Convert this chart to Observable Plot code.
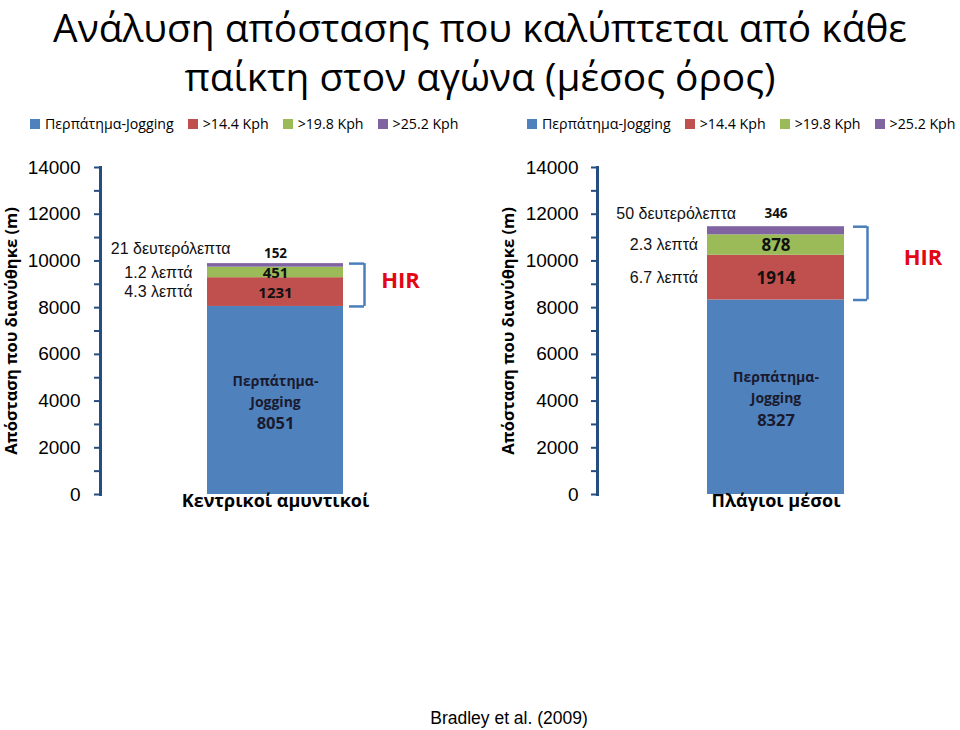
<!DOCTYPE html>
<html>
<head>
<meta charset="utf-8">
<script src="https://cdn.jsdelivr.net/npm/d3@7"></script>
<script src="https://cdn.jsdelivr.net/npm/@observablehq/plot@0.6"></script>
<style>
  html, body { margin: 0; padding: 0; background: #fff; }
  body { width: 960px; height: 730px; position: relative; overflow: hidden; font-family: "Liberation Sans", Arial, sans-serif; }
  #title { position: absolute; left: 0; top: 2px; width: 960px; text-align: center; font-family: "Open Sans", sans-serif; font-size: 38px; line-height: 49px; color: #000; }
  #title .tl { white-space: nowrap; }
  .legend { position: absolute; top: 107px; width: 445px; white-space: nowrap; }
  .lg-swatches-wrap { flex-wrap: nowrap !important; }
  .lg-swatch { margin-right: 14px !important; }
  .lg-swatch > svg { margin-right: 5px !important; }
  .panel { position: absolute; top: 140px; }
  #caption { position: absolute; left: 0; width: 1018px; text-align: center; top: 708px; font-family: "Liberation Sans", Arial, sans-serif; font-size: 17.5px; color: #000; }
</style>
</head>
<body>
<div id="title"></div>
<div id="legendL" class="legend" style="left:30px"></div>
<div id="legendR" class="legend" style="left:527px"></div>
<div id="panelL" class="panel" style="left:0px"></div>
<div id="panelR" class="panel" style="left:480px"></div>
<div id="caption"></div>
<script>
// ---------- data ----------
const titleLines = ["Ανάλυση απόστασης που καλύπτεται από κάθε", "παίκτη στον αγώνα (μέσος όρος)"];
const series = ["Περπάτημα-Jogging", ">14.4 Kph", ">19.8 Kph", ">25.2 Kph"];
const colors = ["#4F81BD", "#C0504D", "#9BBB59", "#8064A2"];
const groups = ["Κεντρικοί αμυντικοί", "Πλάγιοι μέσοι"];
const centralValues = [8051, 1231, 451, 152];
const wideValues = [8327, 1914, 878, 346];
const centralTimes = ["", "4.3 λεπτά", "1.2 λεπτά", "21 δευτερόλεπτα"];
const wideTimes = ["", "6.7 λεπτά", "2.3 λεπτά", "50 δευτερόλεπτα"];
const yTicks = [0, 1000, 2000, 3000, 4000, 5000, 6000, 7000, 8000, 9000, 10000, 11000, 12000, 13000, 14000];
const yLabelTicks = [0, 2000, 4000, 6000, 8000, 10000, 12000, 14000];
const yDomain = [0, 14000];
const axisTitle = "Απόσταση που διανύθηκε (m)";
const hirLabel = "HIR";
const caption = "Bradley et al. (2009)";

const axisColor = "#264d80";
const bracketColor = "#4a7ebb";
const hirColor = "#e30613";
const labelFont = "'Open Sans', sans-serif";
const plainFont = "'Liberation Sans', Arial, sans-serif";

// ---------- title (font size fitted to the reference line width) ----------
const titleEl = document.getElementById("title");
titleLines.forEach(t => {
  const d = document.createElement("div");
  d.className = "tl";
  const s = document.createElement("span");
  s.textContent = t;
  d.appendChild(s);
  titleEl.appendChild(d);
});
const firstSpan = titleEl.querySelector("span");
const w0 = firstSpan.getBoundingClientRect().width;
titleEl.style.fontSize = (38 * 854 / w0).toFixed(2) + "px";

document.getElementById("caption").textContent = caption;

// ---------- legends ----------
for (const id of ["legendL", "legendR"]) {
  document.getElementById(id).appendChild(
    Plot.legend({
      color: {domain: series, range: colors},
      swatchSize: 10,
      className: "lg",
      style: {fontFamily: labelFont, fontSize: "14.2px", color: "#000"}
    })
  );
}

// ---------- panels ----------
function panel(o) {
  let acc = 0;
  const rows = series.map((s, i) => {
    const y1 = acc; acc += o.values[i];
    return {group: o.group, series: s, value: o.values[i], time: o.times[i], y1, y2: acc, mid: (y1 + acc) / 2, idx: i};
  });
  const total = acc;
  const hirBase = rows[1].y1;
  const inner = rows.filter(r => r.idx === 1 || r.idx === 2);
  const top = rows.filter(r => r.idx === 3);
  return Plot.plot({
    width: 480, height: 380,
    marginLeft: o.marginLeft, marginRight: 0, marginTop: 27, marginBottom: 26,
    style: {fontFamily: plainFont, fontSize: "16px", overflow: "visible", background: "transparent", color: "#000"},
    x: {domain: [o.group], range: o.xRange, padding: 0},
    y: {domain: yDomain},
    color: {domain: series, range: colors},
    marks: [
      Plot.barY(rows, {x: "group", y1: "y1", y2: "y2", fill: "series"}),
      Plot.axisY({ticks: yTicks, tickSize: 6, tickPadding: o.tickPadding, tickFormat: d => yLabelTicks.includes(d) ? String(d) : "",
        stroke: axisColor, strokeWidth: 2, fill: "#000", fontSize: 19, fontFamily: plainFont, label: null}),
      Plot.frame({anchor: "left", stroke: axisColor, strokeWidth: 3}),
      Plot.axisX({tickSize: 0, tickPadding: 0, fontSize: 18, fontWeight: "bold", fontFamily: labelFont, fill: "#000", label: null}),
      Plot.text([axisTitle], {frameAnchor: "left", textAnchor: "middle", rotate: -90, dx: o.titleDx, fontFamily: labelFont, fontWeight: "bold", fontSize: 16.5, fill: "#000"}),
      // values inside red / green segments
      Plot.text(inner, {x: "group", y: "mid", text: d => String(d.value), dy: 1, fontFamily: labelFont, fontWeight: "bold", fontSize: o.valueSize, fill: "#111"}),
      // value above bar (purple)
      Plot.text(top, {x: "group", y: "y2", text: d => String(d.value), dy: o.topDy, fontFamily: labelFont, fontWeight: "bold", fontSize: 13.5, fill: "#111"}),
      // base segment label
      Plot.text([rows[0]], {x: "group", y: "mid", text: d => d.series.replace("-", "-\n"), lineHeight: 1.5, dy: -11, fontFamily: labelFont, fontWeight: "bold", fontSize: 14, fill: "#1a1a2e"}),
      Plot.text([rows[0]], {x: "group", y: "mid", text: d => String(d.value), dy: 23, fontFamily: labelFont, fontWeight: "bold", fontSize: 16.5, fill: "#1a1a2e"}),
      // time labels
      Plot.text(inner, {x: "group", y: "mid", text: "time", textAnchor: "end", dx: o.timeDx, fontFamily: plainFont, fontSize: 16, fill: "#111"}),
      Plot.text(top, {x: "group", y: "mid", text: "time", textAnchor: "end", dx: o.topTimeDx, dy: -17, fontFamily: plainFont, fontSize: 16, fill: "#111"}),
      // HIR bracket
      Plot.tickY([hirBase, total], {x: () => o.group, y: d => d, insetLeft: o.armInset[0], insetRight: o.armInset[1], stroke: bracketColor, strokeWidth: 2.5}),
      Plot.ruleX([o.group], {x: d => d, y1: hirBase, y2: total, dx: o.bracketDx, stroke: bracketColor, strokeWidth: 2.5}),
      Plot.text([hirLabel], {x: () => o.group, y: () => (hirBase + total) / 2, text: d => d, dx: o.hirDx, dy: o.hirDy, fill: hirColor, fontSize: 22, fontWeight: "bold", fontFamily: labelFont})
    ]
  });
}

document.getElementById("panelL").appendChild(panel({
  group: groups[0], values: centralValues, times: centralTimes,
  marginLeft: 100, xRange: [207, 343], tickPadding: 14, titleDx: -89, valueSize: 15,
  topDy: -10, timeDx: -83, topTimeDx: -45,
  armInset: [142, -21], bracketDx: 89, hirDx: 125, hirDy: -4
}));
document.getElementById("panelR").appendChild(panel({
  group: groups[1], values: wideValues, times: wideTimes,
  marginLeft: 117, xRange: [227, 364], tickPadding: 13, titleDx: -89, valueSize: 17,
  topDy: -13, timeDx: -78, topTimeDx: -40,
  armInset: [146, -23], bracketDx: 91.5, hirDx: 147, hirDy: -5
}));
</script>
</body>
</html>
